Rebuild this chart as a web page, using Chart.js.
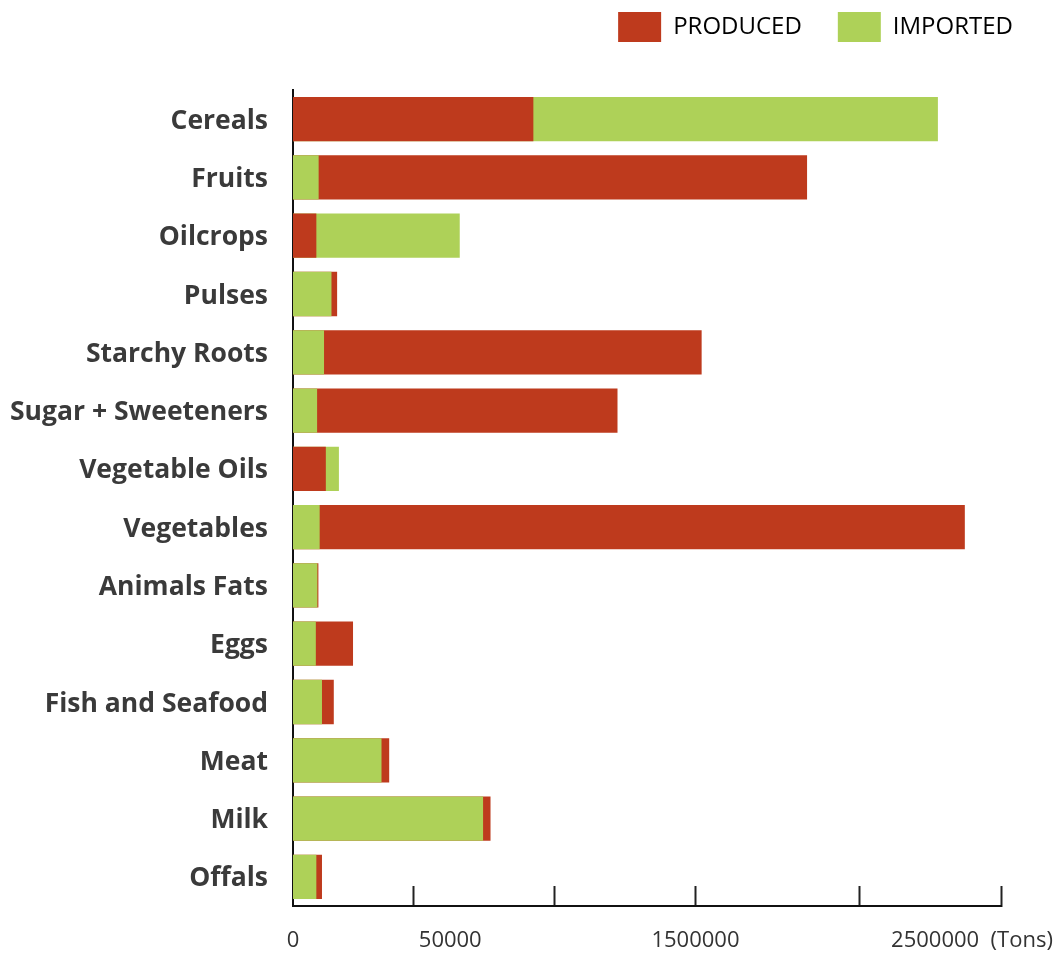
<!DOCTYPE html>
<html>
<head>
<meta charset="utf-8">
<script src="https://cdn.jsdelivr.net/npm/chart.js@4.4.1/dist/chart.umd.min.js"></script>
<style>
  html, body { margin: 0; padding: 0; background: #fff; }
  #wrap { width: 1058px; height: 953px; position: relative; }
</style>
</head>
<body>
<div id="wrap"><canvas id="foodChart"></canvas></div>
<script>
// values, in tons
const categories = ['Cereals', 'Fruits', 'Oilcrops', 'Pulses', 'Starchy Roots', 'Sugar + Sweeteners',
  'Vegetable Oils', 'Vegetables', 'Animals Fats', 'Eggs', 'Fish and Seafood', 'Meat', 'Milk', 'Offals'];
const produced = [937000, 2004000, 91000, 172000, 1593000, 1265000, 128000, 2619000, 99000, 234000, 159000, 375000, 770000, 113000];
const imported = [2514000, 100000, 650000, 150000, 121000, 94000, 179000, 104000, 95000, 89000, 113000, 345000, 741000, 91000];

const seriesNames = ['PRODUCED', 'IMPORTED'];
const seriesColors = ['#BE3A1D', '#AED158'];

// the axis of the original is drawn loosely: marks and labels don't line up
const axisMax = 2760000;
const tickMarkValues = [468000, 1021000, 1571000, 2207000, 2760000];
const tickLabelValues = [0, 613000, 1569000, 2647000];
const tickLabels = ['0', '50000', '1500000', '2500000  (Tons)'];

// bars overlap: the longer one sits behind, the shorter one in front
const backValues = produced.map((p, i) => Math.max(p, imported[i]));
const frontValues = produced.map((p, i) => Math.min(p, imported[i]));
const backColors = produced.map((p, i) => p >= imported[i] ? seriesColors[0] : seriesColors[1]);
const frontColors = produced.map((p, i) => p >= imported[i] ? seriesColors[1] : seriesColors[0]);

const legendHeight = {
  id: 'legendHeight',
  beforeInit(chart) {
    const fit = chart.legend.fit;
    chart.legend.fit = function () {
      fit.bind(chart.legend)();
      this.height = 114;
    };
  }
};

const ctx = document.getElementById('foodChart').getContext('2d');
const chart = new Chart(ctx, {
  type: 'bar',
  data: {
    labels: categories,
    datasets: [{
      label: 'front',
      data: frontValues,
      backgroundColor: frontColors,
      borderWidth: 0,
      order: 1
    }, {
      label: 'back',
      data: backValues,
      backgroundColor: backColors,
      borderWidth: 0,
      order: 2
    }]
  },
  options: {
    indexAxis: 'y',
    responsive: true,
    maintainAspectRatio: false,
    animation: false,
    layout: { padding: { top: -24, right: 9, left: 0, bottom: 0 } },
    datasets: {
      bar: { barPercentage: 0.76, categoryPercentage: 1 }
    },
    scales: {
      y: {
        stacked: true,
        grid: { display: false, drawTicks: false },
        border: { display: true, color: '#111', width: 2 },
        ticks: {
          padding: 25,
          labelOffset: 2,
          color: '#3a3a3a',
          font: { family: 'Open Sans', size: 26.5, weight: 'bold' }
        },
        afterFit(scale) { scale.width = 293; }
      },
      x: {
        type: 'linear',
        min: 0,
        max: axisMax,
        position: 'bottom',
        stacked: false,
        grid: {
          drawOnChartArea: false,
          drawTicks: true,
          tickLength: -20,
          tickColor: '#222',
          tickWidth: 2
        },
        border: { display: true, color: '#111', width: 2 },
        ticks: { display: false },
        afterBuildTicks(scale) { scale.ticks = tickMarkValues.map(v => ({ value: v })); },
        afterFit(scale) { scale.height = 0; scale.paddingLeft = 0; scale.paddingRight = 0; }
      },
      x2: {
        type: 'linear',
        min: 0,
        max: axisMax,
        position: 'bottom',
        grid: { display: false, drawTicks: false },
        border: { display: false },
        ticks: {
          padding: 22,
          color: '#333',
          maxRotation: 0,
          autoSkip: false,
          font: { family: 'Open Sans', size: 22 },
          callback: (value, index) => tickLabels[index]
        },
        afterBuildTicks(scale) { scale.ticks = tickLabelValues.map(v => ({ value: v })); },
        afterFit(scale) { scale.height = 47; scale.paddingLeft = 0; scale.paddingRight = 57; }
      }
    },
    plugins: {
      tooltip: { enabled: false },
      legend: {
        position: 'top',
        align: 'end',
        labels: {
          boxWidth: 43,
          boxHeight: 30,
          padding: 36,
          color: '#333',
          font: { family: 'Open Sans', size: 24 },
          generateLabels: () => seriesNames.map((name, i) => ({
            text: name,
            fillStyle: seriesColors[i],
            strokeStyle: seriesColors[i],
            lineWidth: 0,
            hidden: false,
            datasetIndex: i
          }))
        }
      }
    }
  },
  plugins: [legendHeight]
});
</script>
</body>
</html>
